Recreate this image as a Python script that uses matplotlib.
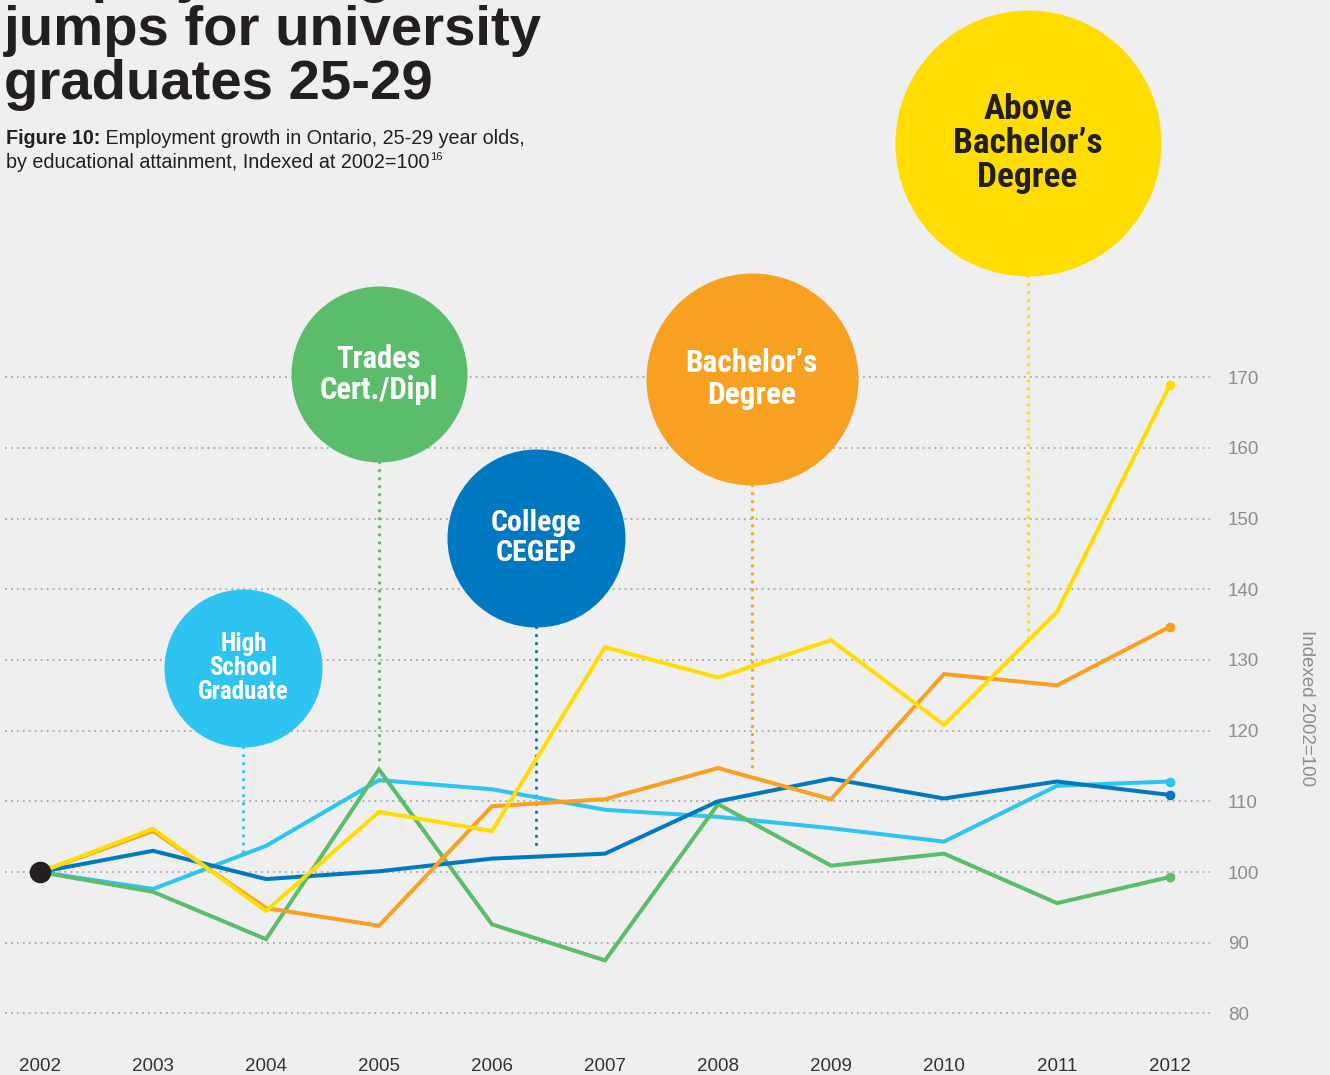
import matplotlib.pyplot as plt

# data, index 2002 = 100
years = [2002, 2003, 2004, 2005, 2006, 2007, 2008, 2009, 2010, 2011, 2012]
high_school = [100, 97.6, 103.7, 113.0, 111.7, 108.8, 107.8, 106.2, 104.3, 112.2, 112.8]
trades = [100, 97.2, 90.5, 114.5, 92.6, 87.5, 109.6, 100.9, 102.6, 95.6, 99.3]
college = [100, 103.0, 99.0, 100.1, 101.9, 102.6, 110.0, 113.2, 110.4, 112.8, 110.9]
bachelors = [100, 105.8, 94.9, 92.4, 109.3, 110.3, 114.7, 110.3, 128.0, 126.4, 134.7]
above_bachelors = [100, 106.1, 94.5, 108.5, 105.8, 131.8, 127.5, 132.8, 120.8, 136.8, 168.9]
y_ticks = [80, 90, 100, 110, 120, 130, 140, 150, 160, 170]

BG = "#efefef"
DARK = "#231f20"
GREY = "#8c8c8c"
NARROW = ["Roboto Condensed", "DejaVu Sans Condensed", "Liberation Sans Narrow",
          "Roboto"]

W, H = 1330, 1075


def px(x, y):
    # figure pixel (from top-left) -> figure fraction
    return x / W, 1 - y / H


fig = plt.figure(figsize=(W / 100, H / 100), dpi=100, facecolor=BG)
# axes spans pixel x 5..1210, y 0..1040
ax = fig.add_axes([5 / W, 35 / H, 1205 / W, 1040 / H])
ax.set_facecolor(BG)
ax.set_xlim(2001.690, 2012.354)
ax.set_ylim(76.24, 223.34)
for s in ax.spines.values():
    s.set_visible(False)

# dotted gridlines
ax.hlines(y_ticks, *ax.get_xlim(), colors="#a6a6a6", linewidth=1.3,
          linestyles=[(0, (1, 2.3))], zorder=1)

ax.set_xticks(years)
ax.set_xticklabels([str(y) for y in years])
ax.set_yticks(y_ticks)
ax.yaxis.tick_right()
ax.tick_params(axis="x", length=0, pad=13, labelsize=13.5, labelcolor="#333333")
ax.tick_params(axis="y", length=0, pad=13, labelsize=13.5, labelcolor=GREY)
for lab in ax.get_xticklabels() + ax.get_yticklabels():
    lab.set_fontfamily("Liberation Sans")
ax.yaxis.set_label_position("right")
ax.set_ylabel("Indexed 2002=100", rotation=270, fontsize=13.5, color=GREY,
              fontfamily="Liberation Sans", va="center", ha="center")
ax.yaxis.set_label_coords(1.0797, 0.319)

series = [
    (high_school, "#2dc4f2", "High\nSchool\nGraduate", "white"),
    (trades, "#5bbd6b", "Trades\nCert./Dipl", "white"),
    (college, "#0079c2", "College\nCEGEP", "white"),
    (bachelors, "#f7a021", "Bachelor\u2019s\nDegree", "white"),
    (above_bachelors, "#ffdd00", "Above\nBachelor\u2019s\nDegree", DARK),
]

# bubble layout: centre (year, value), radius px, end of connector,
# font size, line spacing
bubbles = [
    (2003.80, 128.85, 79, 102.4, 18, 0.98),
    (2005.00, 170.4, 88, 115.4, 22, 1.05),
    (2006.39, 147.2, 89, 103.1, 21.5, 1.08),
    (2008.30, 169.7, 106, 114.1, 22.5, 1.1),
    (2010.74, 203.1, 133, 133.1, 25.5, 1.04),
]

for z, (vals, color, label, tcolor) in enumerate(series):
    ax.plot(years, vals, color=color, linewidth=2.9, zorder=5 + z,
            solid_joinstyle="miter")
    ax.plot(years[-1], vals[-1], "o", color=color, markersize=6, zorder=5 + z)

    bx, by, r, end_y, fs, ls = bubbles[z]
    d_pt = 2 * r * 0.72
    ax.scatter([bx], [by], s=d_pt ** 2, color=color, zorder=3,
               linewidths=0, clip_on=False)
    r_val = r / 7.07
    ax.plot([bx, bx], [by - r_val, end_y], color=color, linewidth=2.4,
            linestyle=(0, (0.01, 2.4)), dash_capstyle="round", zorder=2)
    ax.text(bx, by, label, ha="center", va="center", ma="center",
            color=tcolor, fontsize=fs, fontweight="bold", linespacing=ls,
            fontfamily=NARROW, fontstretch="condensed", zorder=4)

# starting point
ax.plot(years[0], 100, "o", color=DARK, markersize=14.5, zorder=20,
        clip_on=False)

# title (first line runs off the top of the page)
for text, y in [("Employment growth", -9), ("jumps for university", 45),
                ("graduates 25-29", 99)]:
    fig.text(*px(4, y), text, fontsize=40.5, fontweight="bold", color=DARK,
             fontfamily="Liberation Sans", va="baseline", ha="left")

t1 = fig.text(*px(6, 148), "Figure 10:", fontsize=14.2, fontweight="bold",
              color=DARK, fontfamily="Liberation Sans", va="bottom")
ax.annotate(" Employment growth in Ontario, 25-29 year olds,", xy=(1, 0),
            xycoords=t1, va="bottom", ha="left", fontsize=14.2, color=DARK,
            fontfamily="Liberation Sans", annotation_clip=False)
t2 = fig.text(*px(6, 172), "by educational attainment, Indexed at 2002=100",
              fontsize=14.2, color=DARK, fontfamily="Liberation Sans",
              va="bottom")
ax.annotate("16", xy=(1, 1), xycoords=t2, xytext=(0.5, 1),
            textcoords="offset points", va="top", ha="left", fontsize=8,
            color=DARK, fontfamily="Liberation Sans", annotation_clip=False)

fig.savefig("out.png", dpi=100, facecolor=BG)
